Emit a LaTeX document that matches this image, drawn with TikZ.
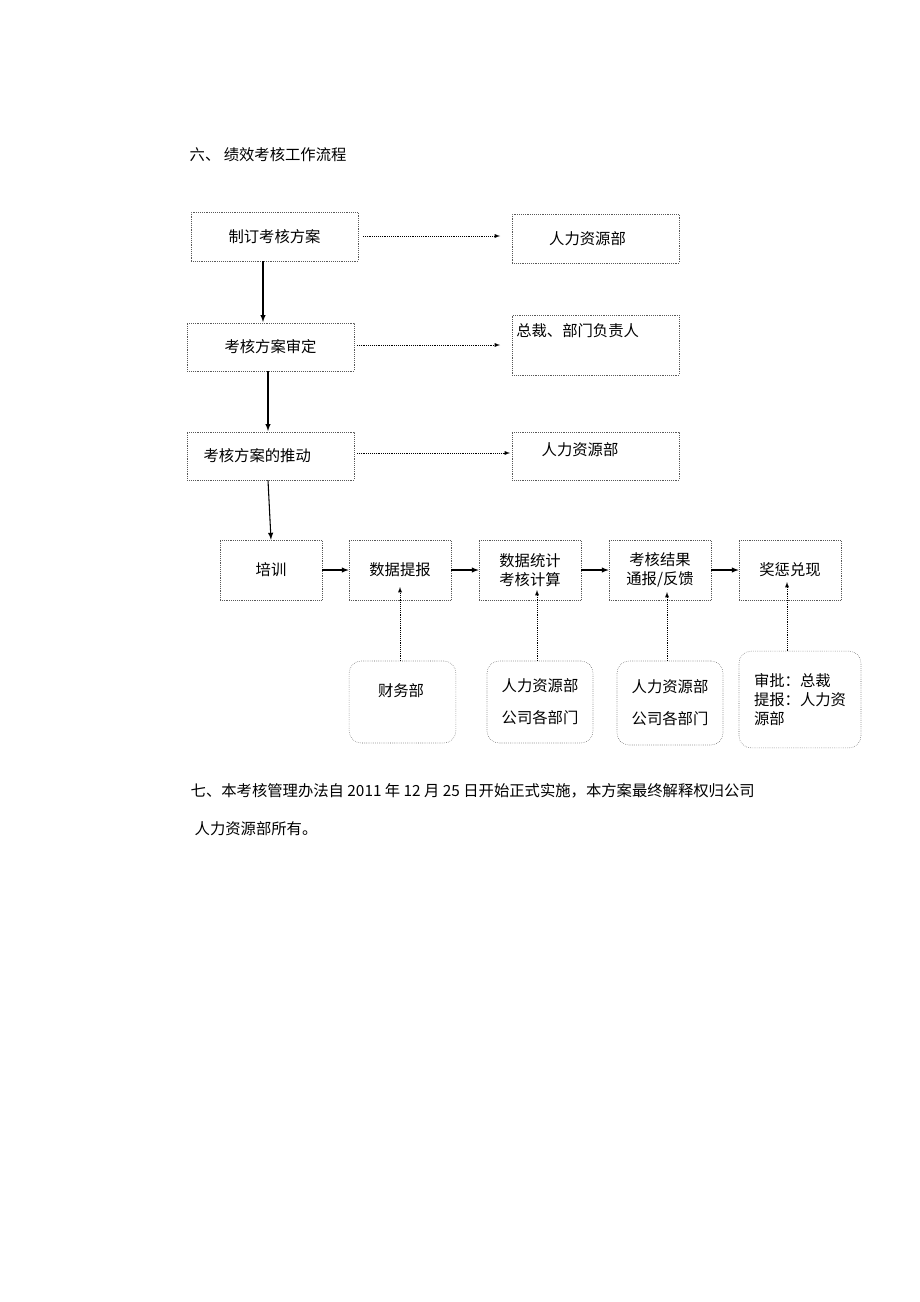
\documentclass[tikz,border=0pt]{standalone}
\usepackage{fontspec}
\setmainfont{Noto Sans CJK SC}
\usetikzlibrary{arrows, calc}

\begin{document}
\begin{tikzpicture}[>=latex, x=0.75pt, y=-0.75pt, font=\fontsize{11.5}{14}\selectfont,
  box/.style={draw=gray!70!black, densely dotted, inner sep=0pt},
  rbox/.style={box, rounded corners=9pt},
  flow/.style={thick, ->},
  link/.style={densely dotted, ->}]

\useasboundingbox (0,0) rectangle (920,1302);

\node[anchor=west] (title) at (185,155) {六、 绩效考核工作流程};

% left column
\node[box, minimum width=125pt, minimum height=37pt] (plan) at (274.5,236.5) {制订考核方案};
\node[box, minimum width=125pt, minimum height=36pt] (check) at (270.5,347) {考核方案审定};
\node[box, minimum width=125pt, minimum height=36pt] (push) at (270.5,456) {\hspace*{-20pt}考核方案的推动};

% right column
\node[box, minimum width=125pt, minimum height=37pt] (hr1) at (595.5,238.5) {\hspace*{-12pt}人力资源部};
\node[box, minimum width=125pt, minimum height=45pt] (boss) at (595.5,345) {};
\node[anchor=north west, inner sep=0pt] (bosstxt) at (516,323) {总裁、部门负责人};
\node[box, minimum width=125pt, minimum height=36pt] (hr2) at (595.5,456) {};
\node[inner sep=0pt] (hr2txt) at (580,450) {人力资源部};

\draw[flow] (plan.south -| 263,0) -- (263,322) coordinate (c1);
\draw[flow] (check.south -| 268,0) -- (268,431);
\draw[link] (363,236) coordinate (d1) -- (500,236);
\draw[link] (357,345) coordinate (d2) -- (500,345);
\draw[link] (357,453) coordinate (d3) -- (510,453);

% row of steps
\foreach \n/\x/\t in {train/271/培训/解释, report/400/数据提报, calc/530/{数据统计\\考核计算}, notify/660/{考核结果\\通报/反馈}, award/790/奖惩兑现}
  \node[box, minimum width=76.5pt, minimum height=45pt, align=center] (\n) at (\x,570) {\t};

\draw[flow] (push.south -| 268,0) -- (train.north);
\draw[flow] (train) -- (report);
\draw[flow] (report) -- (calc);
\draw[flow] (calc) -- (notify);
\draw[flow] (notify) -- (award);

% supporting departments
\node[rbox, minimum width=80pt, minimum height=61.5pt] (fin) at (402.5,702) {};
\node[inner sep=0pt] (fintxt) at (401,691) {财务部};
\node[rbox, minimum width=79.5pt, minimum height=61.5pt, align=center] (hrA) at (540,702) {人力资源部\\[10pt]公司各部门};
\node[rbox, minimum width=79.5pt, minimum height=63pt, align=center] (hrB) at (670,703) {人力资源部\\[10pt]公司各部门};
\node[rbox, minimum width=91.5pt, minimum height=72.5pt, align=left] (appr) at (800,699.5) {审批：总裁\\提报：人力资\\源部};

\draw[link] (fin.north -| 400,0) -- (400,587);
\draw[link] (hrA.north -| 537,0) -- (537,590);
\draw[link] (hrB.north -| 667,0) -- (667,592);
\draw[link] (appr.north -| 787,0) -- (787,582);

\node[anchor=west] (rule1) at (186,791) {七、本考核管理办法自 2011 年 12 月 25 日开始正式实施，本方案最终解释权归公司};
\node[anchor=west] (rule2) at (190,829) {人力资源部所有。};
\end{tikzpicture}
\end{document}
